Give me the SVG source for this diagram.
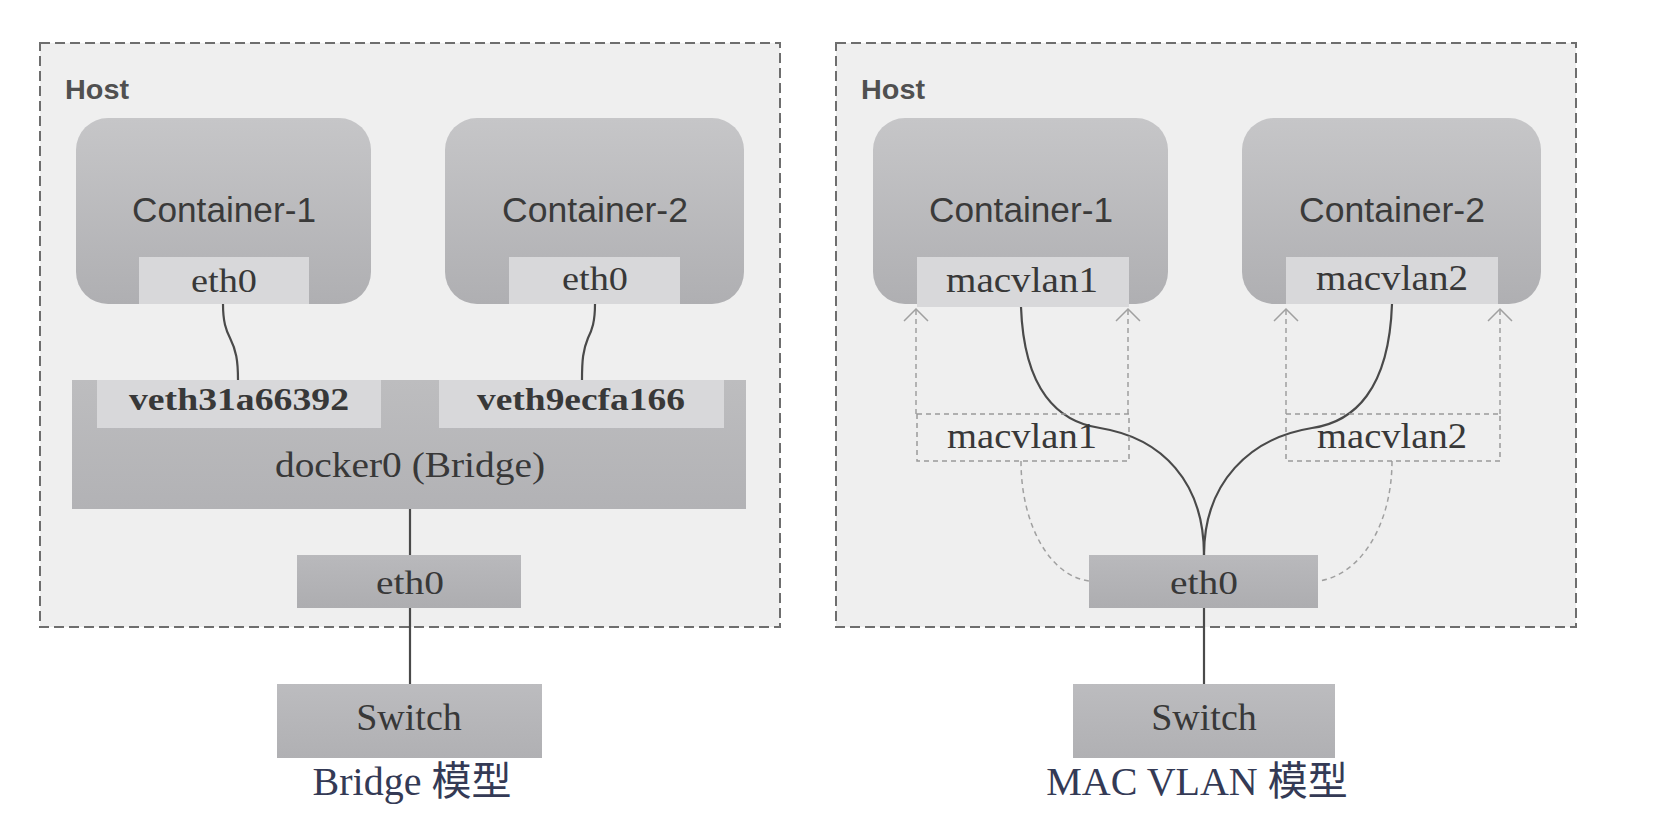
<svg xmlns="http://www.w3.org/2000/svg" width="1660" height="840" viewBox="0 0 1660 840">
<style>
.host{fill:#efefef;stroke:#6e6e6e;stroke-width:2;stroke-dasharray:10 5}
.cont{fill:url(#gc)}
.inner{fill:#d8d8da}
.bridge{fill:url(#gb)}
.eth{fill:url(#ge)}
.sw{fill:url(#gs)}
.dbox{fill:none;stroke:#9a9a9a;stroke-width:1.5;stroke-dasharray:5 4}
.t{font-family:"Liberation Serif","Noto Sans CJK SC",serif;fill:#383838;text-anchor:middle}
.ts{font-family:"Liberation Sans","DejaVu Sans",sans-serif;fill:#3a3a3a;text-anchor:middle}
.hl{font-family:"Liberation Sans","DejaVu Sans",sans-serif;fill:#505050;font-size:27px;font-weight:bold}
.cap{font-family:"Liberation Serif","Noto Sans CJK SC",serif;fill:#343a55;text-anchor:middle;font-size:40px}
.solid{fill:none;stroke:#4a4a4a;stroke-width:2.2}
.dash{fill:none;stroke:#a0a0a0;stroke-width:1.5;stroke-dasharray:5 4}
</style>
<defs>
<linearGradient id="gc" x1="0" y1="0" x2="0" y2="1"><stop offset="0" stop-color="#c6c6c8"/><stop offset="1" stop-color="#afafb2"/></linearGradient>
<linearGradient id="gb" x1="0" y1="0" x2="0" y2="1"><stop offset="0" stop-color="#bdbdbf"/><stop offset="1" stop-color="#b2b2b5"/></linearGradient>
<linearGradient id="ge" x1="0" y1="0" x2="0" y2="1"><stop offset="0" stop-color="#b9b9bc"/><stop offset="1" stop-color="#adadb0"/></linearGradient>
<linearGradient id="gs" x1="0" y1="0" x2="0" y2="1"><stop offset="0" stop-color="#bcbcbf"/><stop offset="1" stop-color="#b0b0b3"/></linearGradient>
<marker id="chev" markerUnits="userSpaceOnUse" markerWidth="30" markerHeight="30" viewBox="-15 -15 30 30" refX="0" refY="0" orient="auto">
<path d="M-12,-12 L0,0 L-12,12" fill="none" stroke="#a0a0a0" stroke-width="1.5"/>
</marker>
</defs>
<rect width="1660" height="840" fill="#ffffff"/>

<g id="host-left">
<rect class="host" x="40" y="43" width="740" height="584"/>
<text class="hl" x="65" y="99" textLength="64" lengthAdjust="spacingAndGlyphs">Host</text>
</g>
<g id="host-right">
<rect class="host" x="836" y="43" width="740" height="584"/>
<text class="hl" x="861" y="99" textLength="64" lengthAdjust="spacingAndGlyphs">Host</text>
</g>

<g id="connectors">
<path class="solid" d="M223,304 C223,322 226,330 230,338 C236,350 238,360 238,380"/>
<path class="solid" d="M595,304 C595,322 592,330 588,338 C583,350 582,360 582,380"/>
<path class="solid" d="M410,509 L410,684"/>
<path class="solid" d="M1021,307 C1024,390 1058,422 1100,428 C1162,438 1204,482 1204,555"/>
<path class="solid" d="M1392,304 C1389,390 1354,422 1312,428 C1250,438 1204,482 1204,555"/>
<path class="solid" d="M1204,608 L1204,684"/>
<path class="dash" d="M916,414 L916,309" marker-end="url(#chev)"/>
<path class="dash" d="M1128,414 L1128,309" marker-end="url(#chev)"/>
<path class="dash" d="M1286,414 L1286,309" marker-end="url(#chev)"/>
<path class="dash" d="M1500,414 L1500,309" marker-end="url(#chev)"/>
<path class="dash" d="M1021,461 C1021,525 1050,576 1089,581"/>
<path class="dash" d="M1392,461 C1392,525 1360,576 1318,581"/>
</g>

<g id="container-1-left">
<rect class="cont" x="76" y="118" width="295" height="186" rx="32"/>
<text class="ts" x="224" y="222" style="font-size:35px" textLength="184" lengthAdjust="spacingAndGlyphs">Container-1</text>
</g>
<g id="eth0-c1-left">
<rect class="inner" x="139" y="257" width="170" height="47"/>
<text class="t" x="224" y="292" style="font-size:34px" textLength="66" lengthAdjust="spacingAndGlyphs">eth0</text>
</g>
<g id="container-2-left">
<rect class="cont" x="445" y="118" width="299" height="186" rx="32"/>
<text class="ts" x="595" y="222" style="font-size:35px" textLength="186" lengthAdjust="spacingAndGlyphs">Container-2</text>
</g>
<g id="eth0-c2-left">
<rect class="inner" x="509" y="257" width="171" height="47"/>
<text class="t" x="595" y="290" style="font-size:34px" textLength="66" lengthAdjust="spacingAndGlyphs">eth0</text>
</g>

<g id="docker0-bridge">
<rect class="bridge" x="72" y="380" width="674" height="129"/>
<text class="t" x="410" y="477" style="font-size:35px" textLength="270" lengthAdjust="spacingAndGlyphs">docker0 (Bridge)</text>
</g>
<g id="veth31a66392">
<rect class="inner" x="97" y="380" width="284" height="48"/>
<text class="t" x="239" y="410" style="font-size:31px;font-weight:bold" textLength="220" lengthAdjust="spacingAndGlyphs">veth31a66392</text>
</g>
<g id="veth9ecfa166">
<rect class="inner" x="439" y="380" width="285" height="48"/>
<text class="t" x="581" y="410" style="font-size:31px;font-weight:bold" textLength="208" lengthAdjust="spacingAndGlyphs">veth9ecfa166</text>
</g>
<g id="eth0-left">
<rect class="eth" x="297" y="555" width="224" height="53"/>
<text class="t" x="410" y="594" style="font-size:34px" textLength="68" lengthAdjust="spacingAndGlyphs">eth0</text>
</g>
<g id="switch-left">
<rect class="sw" x="277" y="684" width="265" height="74"/>
<text class="t" x="409" y="730" style="font-size:38px">Switch</text>
</g>
<g id="caption-left">
<text class="cap" x="412" y="795">Bridge 模型</text>
</g>

<g id="container-1-right">
<rect class="cont" x="873" y="118" width="295" height="186" rx="32"/>
<text class="ts" x="1021" y="222" style="font-size:35px" textLength="184" lengthAdjust="spacingAndGlyphs">Container-1</text>
</g>
<g id="macvlan1-c">
<rect class="inner" x="917" y="257" width="212" height="50"/>
<text class="t" x="1022" y="292" style="font-size:35px" textLength="152" lengthAdjust="spacingAndGlyphs">macvlan1</text>
</g>
<g id="container-2-right">
<rect class="cont" x="1242" y="118" width="299" height="186" rx="32"/>
<text class="ts" x="1392" y="222" style="font-size:35px" textLength="186" lengthAdjust="spacingAndGlyphs">Container-2</text>
</g>
<g id="macvlan2-c">
<rect class="inner" x="1286" y="257" width="212" height="47"/>
<text class="t" x="1392" y="290" style="font-size:35px" textLength="152" lengthAdjust="spacingAndGlyphs">macvlan2</text>
</g>
<g id="macvlan1-host">
<rect class="dbox" x="917" y="414" width="212" height="47"/>
<text class="t" x="1022" y="448" style="font-size:35px" textLength="150" lengthAdjust="spacingAndGlyphs">macvlan1</text>
</g>
<g id="macvlan2-host">
<rect class="dbox" x="1286" y="414" width="214" height="47"/>
<text class="t" x="1392" y="448" style="font-size:35px" textLength="150" lengthAdjust="spacingAndGlyphs">macvlan2</text>
</g>
<g id="eth0-right">
<rect class="eth" x="1089" y="555" width="229" height="53"/>
<text class="t" x="1204" y="594" style="font-size:34px" textLength="68" lengthAdjust="spacingAndGlyphs">eth0</text>
</g>
<g id="switch-right">
<rect class="sw" x="1073" y="684" width="262" height="74"/>
<text class="t" x="1204" y="730" style="font-size:38px">Switch</text>
</g>
<g id="caption-right">
<text class="cap" x="1197" y="795">MAC VLAN 模型</text>
</g>
</svg>
